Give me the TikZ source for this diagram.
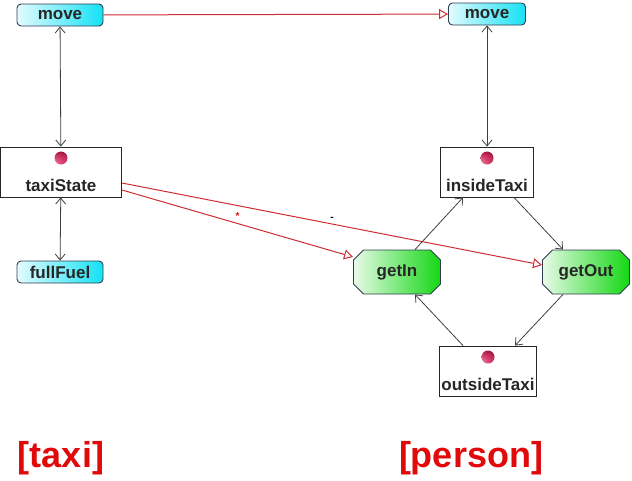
\documentclass[tikz,border=0pt]{standalone}
\usepackage{fontspec}
\setmainfont{Liberation Sans}
\usetikzlibrary{arrows.meta,shapes.misc}

\definecolor{linkred}{RGB}{205,45,50}
\definecolor{labelred}{RGB}{225,10,10}
\definecolor{boxcyan}{RGB}{20,225,245}
\definecolor{boxgreen}{RGB}{20,215,20}
\definecolor{boxedge}{RGB}{50,60,80}
\definecolor{ballred}{RGB}{200,0,60}

\tikzset{
  event/.style = {draw=boxedge, line width=0.9pt, rounded corners=4pt, left color=boxcyan!12,
    right color=boxcyan, minimum width=86pt, minimum height=22pt,
    inner sep=0pt, font=\bfseries\fontsize{17}{17}\selectfont, text=black!85},
  action/.style = {chamfered rectangle, chamfered rectangle xsep=5pt,
    chamfered rectangle ysep=5pt, draw=boxedge, line width=0.9pt, left color=boxgreen!10,
    right color=boxgreen, minimum width=87pt, minimum height=44pt,
    inner sep=0pt, font=\bfseries\fontsize{17}{17}\selectfont, text=black!85},
  state/.style = {draw=black!85, line width=0.9pt, fill=white, text height=40pt, text depth=2pt,
    inner ysep=4pt, inner xsep=1pt, font=\bfseries\fontsize{17}{17}\selectfont,
    text=black!85,
    path picture={\shade[ball color=ballred]
      ([yshift=-11pt]path picture bounding box.north) circle (6.5pt);}},
  sync/.style = {black!75, line width=0.8pt, {Straight Barb[length=6pt,width=10pt]}-{Straight Barb[length=6pt,width=10pt]}},
  link/.style = {linkred, line width=1pt, -{Triangle[open,length=9pt,width=10pt]}},
  flow/.style = {black!75, line width=0.8pt, -{Straight Barb[length=6pt,width=10pt]}},
  title/.style = {text=labelred, font=\bfseries\fontsize{36}{36}\selectfont}
}

\begin{document}
\begin{tikzpicture}[x=1pt, y=-1pt]
  \useasboundingbox (0,0) rectangle (632,480);

  % taxi side
  \node [event] (moveTaxi) at (60,15) {move};
  \node [state, minimum width=121pt] (taxiState) at (61,172) {taxiState};
  \node [event] (fullFuel) at (60,272) {fullFuel};

  % person side
  \node [event, minimum width=77pt] (movePerson) at (487,14) {move};
  \node [state, minimum width=93pt] (insideTaxi) at (487,172) {insideTaxi};
  \node [action] (getIn) at (397,272) {getIn};
  \node [action] (getOut) at (586,272) {getOut};
  \node [state, minimum width=97pt] (outsideTaxi) at (488,371) {outsideTaxi};

  \node [title] (taxiTitle) at (61,458) {[taxi]};
  \node [title] (personTitle) at (471,458) {[person]};

  \draw [sync] (moveTaxi) -- (taxiState);
  \draw [sync] (taxiState) -- (fullFuel);
  \draw [sync] (movePerson) -- (insideTaxi);

  \draw [link] (moveTaxi) -- (movePerson);
  \draw [link] ([yshift=-18pt]taxiState.east) -- ([yshift=15pt]getIn.west)
    node [pos=0.5, above, text=labelred, font=\bfseries] (starLabel) {*};
  \draw [link] ([yshift=-11pt]taxiState.east) -- ([yshift=7pt]getOut.west)
    node [pos=0.5, above, text=black, font=\bfseries] (dashLabel) {-};

  \draw [flow] ([xshift=27pt]insideTaxi.south) -- ([xshift=-23pt]getOut.north);
  \draw [flow] ([xshift=-23pt]getOut.south) -- ([xshift=27pt]outsideTaxi.north);
  \draw [flow] ([xshift=-25pt]outsideTaxi.north) -- ([xshift=18pt]getIn.south);
  \draw [flow] ([xshift=18pt]getIn.north) -- ([xshift=-24pt]insideTaxi.south);
\end{tikzpicture}
\end{document}
